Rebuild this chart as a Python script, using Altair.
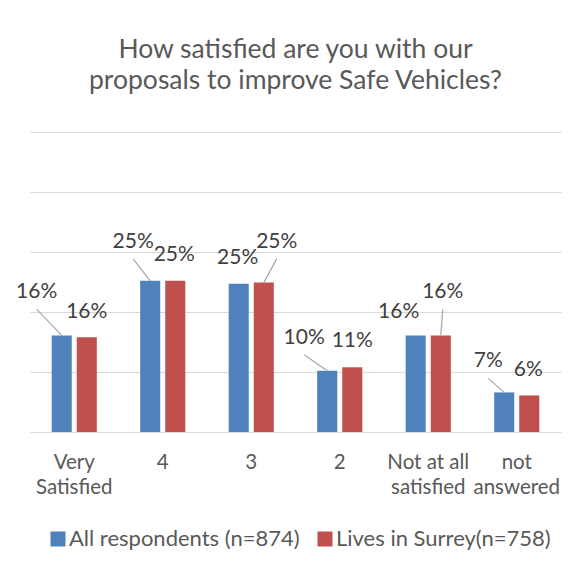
import altair as alt
import pandas as pd

# ---- data ----
categories = ["Very Satisfied", "4", "3", "2", "Not at all satisfied", "not answered"]
series = ["All respondents (n=874)", "Lives in Surrey(n=758)"]
all_respondents = [16.1, 25.2, 24.7, 10.2, 16.1, 6.6]
lives_in_surrey = [15.8, 25.2, 24.9, 10.8, 16.1, 6.1]

# ---- styling (label callout placement in pixels, relative to bar top) ----
colors = ["#4F81BD", "#C0504D"]
label_dx = [[-25, -17, -1, -23, -17, -16], [0, -1, 13, 0, 2, -1]]
label_up = [[43, 39, 26, 33, 23, 31], [25, 26, 41, 26, 43, 25]]
leader = [[True, True, False, True, False, True], [False, False, True, False, True, False]]
wrap = {
    "Very Satisfied": ["Very", "Satisfied"],
    "Not at all satisfied": ["Not at all", "satisfied"],
    "not answered": ["not", "answered"],
}

W, H = 531, 300
YMAX = 50
step = W / len(categories)
ppu = H / YMAX
x_pad_inner, x_pad_outer = 0.49, 0.245
off_pad_inner = 0.2
bandwidth = step * (1 - x_pad_inner)
off_step = bandwidth / (2 - off_pad_inner)
bar_w = off_step * (1 - off_pad_inner)
half_off = off_step + bar_w / 2 - bandwidth / 2  # centre offset of each bar from band centre

rows = []
for si, (name, vals) in enumerate(zip(series, [all_respondents, lives_in_surrey])):
    for ci, cat in enumerate(categories):
        rows.append(dict(category=cat, idx=ci, series=name, side=(-1 if si == 0 else 1),
                         value=vals[ci], dx=label_dx[si][ci], up=label_up[si][ci],
                         leader=leader[si][ci]))
df = pd.DataFrame(rows)

FONT = "Lato"
TXT = "#595959"

label_expr = ""
for k, v in wrap.items():
    label_expr += f"datum.label == '{k}' ? {v!r} : "
label_expr += "datum.label"


def yenc(field):
    return alt.Y(f"{field}:Q", title=None,
                 scale=alt.Scale(domain=[0, YMAX]),
                 axis=alt.Axis(values=[0, 10, 20, 30, 40, 50], labels=False, ticks=False,
                               domain=False, title=None, gridColor="#d9d9d9", gridWidth=1))


xq = alt.Scale(domain=[-0.5, len(categories) - 0.5])

base = alt.Chart(df)

bars = base.mark_bar().encode(
    x=alt.X("category:N", sort=categories, title=None,
            scale=alt.Scale(paddingInner=x_pad_inner, paddingOuter=x_pad_outer),
            axis=alt.Axis(labelExpr=label_expr, ticks=False, domain=False, labelAngle=0,
                          labelFontSize=20.5, labelColor=TXT, labelFont=FONT,
                          labelPadding=20, labelLineHeight=25, grid=False)),
    xOffset=alt.XOffset("series:N", sort=series,
                        scale=alt.Scale(paddingInner=off_pad_inner, paddingOuter=0)),
    y=yenc("value"),
    color=alt.Color("series:N", sort=series,
                    scale=alt.Scale(domain=series, range=colors),
                    legend=alt.Legend(title=None, orient="none", legendX=17, legendY=396,
                                      direction="horizontal", symbolType="square",
                                      symbolSize=225, symbolStrokeWidth=0,
                                      labelFontSize=22, labelFont=FONT, labelColor=TXT,
                                      columnPadding=14, labelOffset=0, labelLimit=0)),
)

leaders = base.transform_filter("datum.leader").transform_calculate(
    lx=f"datum.idx + datum.side*{half_off / step}",
    ly="datum.value",
    lx2=f"datum.idx + datum.side*{half_off / step} + datum.dx/{step}",
    ly2=f"datum.value + (datum.up - 17)/{ppu}",
).mark_rule(color="#a6a6a6", strokeWidth=1.2).encode(
    x=alt.X("lx:Q", scale=xq, axis=None),
    x2="lx2:Q",
    y=yenc("ly"),
    y2="ly2:Q",
)

labels = base.transform_calculate(
    tx=f"datum.idx + datum.side*{half_off / step} + datum.dx/{step}",
    ty=f"datum.value + datum.up/{ppu}",
    lab="format(datum.value/100, '.0%')",
).mark_text(font=FONT, fontSize=21, color="#404040", baseline="middle", align="center").encode(
    x=alt.X("tx:Q", scale=xq, axis=None),
    y=yenc("ty"),
    text="lab:N",
)

chart = alt.layer(bars, leaders, labels).resolve_scale(x="independent").properties(
    width=W, height=H,
    title=alt.TitleParams(["How satisfied are you with our", "proposals to improve Safe Vehicles?"],
                          fontSize=26.5, font=FONT, fontWeight="normal", color=TXT,
                          anchor="middle", offset=38, lineHeight=31),
    padding={"left": 22, "top": 124, "right": 19, "bottom": 130},
    autosize=alt.AutoSizeParams(type="none"),
).configure_view(stroke=None)

chart.save("out.html", embed_options={"renderer": "svg", "actions": False})
